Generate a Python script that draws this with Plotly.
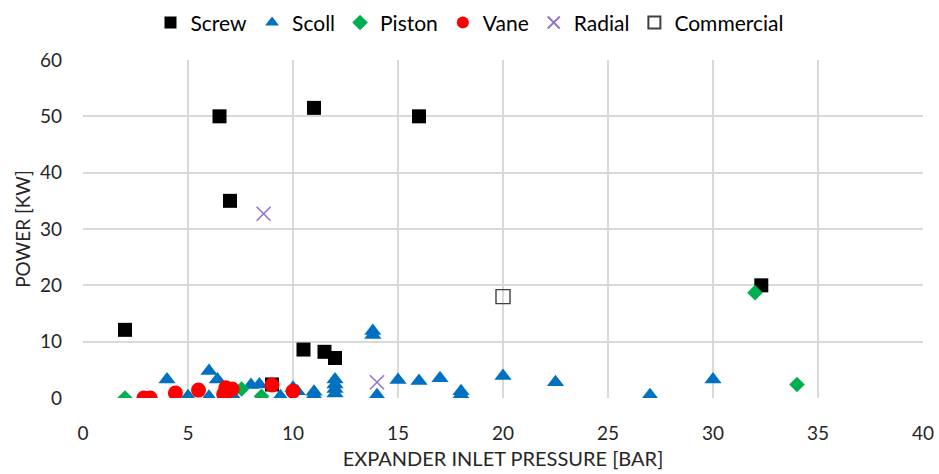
import plotly.graph_objects as go

# Expander inlet pressure [bar] vs power [kW], grouped by expander type
screw_x = [2.0, 6.5, 11.0, 16.0, 7.0, 10.5, 11.5, 12.0, 9.0, 32.3]
screw_y = [12.1, 50.0, 51.5, 50.0, 35.0, 8.6, 8.2, 7.1, 2.4, 20.0]

scroll_x = [4.0, 5.0, 6.0, 6.0, 6.4, 7.0, 7.1, 8.0, 8.4, 9.4, 10.0, 10.2,
            11.0, 11.0, 12.0, 12.0, 12.0, 12.0, 13.8, 13.8, 14.0, 15.0, 16.0,
            17.0, 18.0, 18.0, 20.0, 22.5, 27.0, 30.0]
scroll_y = [3.3, 0.3, 4.8, 0.2, 3.3, 0.1, 0.6, 2.3, 2.4, 0.3, 1.8, 1.2,
            0.5, 1.1, 3.3, 2.4, 1.6, 0.8, 11.9, 11.2, 0.5, 3.2, 3.0,
            3.5, 0.6, 1.2, 3.9, 2.8, 0.5, 3.3]

piston_x = [2.0, 7.55, 8.5, 32.0, 34.0]
piston_y = [0.0, 1.6, 0.3, 18.7, 2.4]

vane_x = [2.9, 3.2, 4.4, 5.5, 6.7, 6.8, 6.9, 7.1, 9.0, 10.0]
vane_y = [0.0, 0.0, 0.9, 1.4, 0.7, 1.8, 1.2, 1.6, 2.3, 1.2]

radial_x = [8.6, 14.0]
radial_y = [32.7, 2.8]

commercial_x = [20.0]
commercial_y = [18.0]

x_ticks = [0, 5, 10, 15, 20, 25, 30, 35, 40]
y_ticks = [0, 10, 20, 30, 40, 50, 60]

FONT = "Lato, 'Open Sans', sans-serif"
TEXT = "#262626"
GRID = "#d9d9d9"

fig = go.Figure()
fig.add_trace(go.Scatter(x=screw_x, y=screw_y, mode="markers", name="Screw",
                         marker=dict(symbol="square", size=14, color="#000000")))
fig.add_trace(go.Scatter(x=scroll_x, y=scroll_y, mode="markers", name="Scoll",
                         marker=dict(symbol="triangle-up", size=15, color="#0070c0")))
fig.add_trace(go.Scatter(x=piston_x, y=piston_y, mode="markers", name="Piston",
                         marker=dict(symbol="diamond", size=12, color="#00b050")))
fig.add_trace(go.Scatter(x=vane_x, y=vane_y, mode="markers", name="Vane",
                         marker=dict(symbol="circle", size=15, color="#ff0000")))
fig.add_trace(go.Scatter(x=radial_x, y=radial_y, mode="markers", name="Radial",
                         marker=dict(symbol="x-thin-open", size=14, color="#9673c8",
                                     line=dict(color="#9673c8", width=1.6))))
fig.add_trace(go.Scatter(x=commercial_x, y=commercial_y, mode="markers", name="Commercial",
                         marker=dict(symbol="square-open", size=14, color="#404040",
                                     line=dict(color="#404040", width=1.4))))

fig.update_layout(
    width=939, height=474,
    margin=dict(l=83, r=16, t=60, b=76),
    paper_bgcolor="white", plot_bgcolor="white",
    font=dict(family=FONT, size=19, color=TEXT),
    showlegend=True,
    legend=dict(orientation="h", xref="container", yref="container",
                x=0.5, xanchor="center", y=0.995, yanchor="top",
                font=dict(size=21, color="#000000"),
                itemsizing="constant", tracegroupgap=0, itemwidth=30),
    xaxis=dict(range=[0, 40], tickvals=x_ticks, showgrid=True, gridcolor=GRID,
               gridwidth=1.5, zeroline=False, showline=False, ticks="",
               automargin=False, ticklabelstandoff=22,
               title=dict(text="EXPANDER INLET PRESSURE [BAR]", standoff=8,
                          font=dict(size=20, color=TEXT)),
               tickfont=dict(size=19, color=TEXT)),
    yaxis=dict(range=[0, 60], tickvals=y_ticks, showgrid=True, gridcolor=GRID,
               gridwidth=1.5, zeroline=False, showline=False, ticks="",
               automargin=False, ticklabelstandoff=20,
               title=dict(text="POWER [KW]", standoff=4,
                          font=dict(size=19, color=TEXT)),
               tickfont=dict(size=19, color=TEXT)),
)

fig.write_html("out.html")
